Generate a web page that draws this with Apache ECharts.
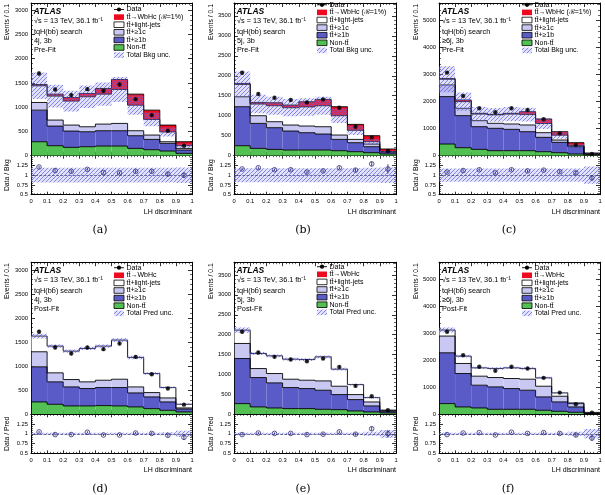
<!DOCTYPE html>
<html><head><meta charset="utf-8">
<script src="https://cdn.jsdelivr.net/npm/echarts@6/dist/echarts.min.js"></script>
<style>html,body{margin:0;padding:0;background:#fff}#c{width:605px;height:495px}</style>
</head><body><div id="c"></div>
<script>
// ---------- data ----------
const binEdges = [0, 0.1, 0.2, 0.3, 0.4, 0.5, 0.6, 0.7, 0.8, 0.9, 1.0];

// (a) 4j,3b Pre-Fit
const a_nonTT   = [288,206,172,185,199,199,151,124,96,48];
const a_ttb     = [652,405,336,309,316,316,261,212,158,69];
const a_ttc     = [158,124,124,103,137,151,103,90,34,34];
const a_ttlight = [344,494,494,618,618,700,527,322,202,55];
const a_sig     = [27,41,75,69,117,206,228,192,142,82];
const a_data    = [1696,1366,1250,1373,1339,1469,1167,838,515,206];
const a_dataErr = [41,37,35,37,37,38,34,29,23,14];
const a_ratio   = [1.21,1.12,1.10,1.15,1.07,1.06,1.10,1.10,1.03,1.00];
const a_ratioErr= [0.03,0.03,0.03,0.03,0.03,0.03,0.04,0.04,0.05,0.07];
const a_unc     = [0.19,0.19,0.19,0.19,0.19,0.19,0.19,0.19,0.19,0.2];

// (b) 5j,3b Pre-Fit
const b_nonTT   = [250,183,158,142,142,142,125,100,75,42];
const b_ttb     = [975,625,542,475,433,400,283,225,150,50];
const b_ttc     = [250,192,150,150,167,183,109,83,67,10];
const b_ttlight = [308,292,400,433,478,525,483,227,58,0];
const b_sig     = [25,41,75,67,130,158,225,148,150,65];
const b_data    = [2075,1542,1450,1392,1333,1408,1200,725,458,117];
const b_dataErr = [46,39,38,37,37,38,35,27,21,11];
const b_ratio   = [1.16,1.19,1.14,1.14,1.08,1.11,1.19,1.13,1.29,1.16];
const b_ratioErr= [0.03,0.03,0.03,0.03,0.03,0.03,0.04,0.04,0.06,0.12];
const b_unc     = [0.18,0.18,0.18,0.18,0.18,0.18,0.18,0.18,0.19,0.2];

// (c) >=6j,3b Pre-Fit
const c_nonTT   = [432,296,235,185,185,185,148,111,62,25];
const c_ttb     = [1754,1186,839,828,790,704,531,383,271,30];
const c_ttc     = [432,272,223,185,198,247,173,86,25,7];
const c_ttlight = [212,246,243,312,367,384,338,180,15,5];
const c_sig     = [23,62,28,21,28,110,168,129,109,32];
const c_data    = [3075,2210,1754,1605,1754,1692,1346,827,395,62];
const c_dataErr = [55,47,42,40,42,41,37,29,20,8];
const c_ratio   = [1.08,1.12,1.14,1.06,1.14,1.11,1.13,1.09,1.06,0.93];
const c_ratioErr= [0.03,0.03,0.03,0.03,0.03,0.03,0.03,0.04,0.05,0.07];
const c_unc     = [0.17,0.17,0.17,0.17,0.17,0.17,0.17,0.17,0.17,0.22];

// (d) 4j,3b Post-Fit
const d_nonTT   = [257,208,174,174,181,174,153,118,83,49];
const d_ttb     = [729,466,395,361,375,382,291,243,174,61];
const d_ttc     = [313,187,153,139,152,173,125,90,83,22];
const d_ttlight = [326,556,590,694,709,813,612,396,216,76];
const d_sig     = [0,0,0,0,0,0,0,0,0,0];
const d_data    = [1715,1389,1264,1389,1354,1472,1194,833,535,201];
const d_dataErr = [41,37,36,37,37,38,35,29,23,14];
const d_ratio   = [1.05,0.98,0.98,1.04,0.97,0.97,1.02,1.01,0.96,0.91];
const d_ratioErr= [0.025,0.025,0.025,0.025,0.025,0.025,0.03,0.035,0.04,0.07];
const d_unc     = [0.03,0.025,0.025,0.025,0.025,0.025,0.03,0.03,0.04,0.08];

// (e) 5j,3b Post-Fit
const e_nonTT   = [268,185,159,143,143,126,117,84,59,34];
const e_ttb     = [1133,738,630,528,503,478,378,285,151,33];
const e_ttc     = [378,226,235,210,210,235,210,126,100,28];
const e_ttlight = [335,378,444,503,520,604,428,252,110,10];
const e_sig     = [0,0,0,0,0,0,0,0,0,0];
const e_data    = [2072,1552,1443,1376,1334,1401,1191,713,453,100];
const e_dataErr = [46,39,38,37,37,37,35,27,21,10];
const e_ratio   = [0.98,1.02,1.01,1.01,0.98,0.99,1.05,0.99,1.13,1.00];
const e_ratioErr= [0.025,0.025,0.025,0.025,0.025,0.025,0.03,0.035,0.05,0.1];
const e_unc     = [0.03,0.025,0.025,0.025,0.025,0.025,0.03,0.03,0.05,0.1];

// (f) >=6j,3b Post-Fit
const f_nonTT   = [397,273,236,186,186,186,149,112,75,25];
const f_ttb     = [1888,1242,845,832,770,708,497,348,198,20];
const f_ttc     = [621,373,335,348,373,410,397,211,124,10];
const f_ttlight = [224,273,310,336,397,398,311,124,25,15];
const f_sig     = [0,0,0,0,0,0,0,0,0,0];
const f_data    = [3068,2198,1764,1615,1764,1702,1354,807,373,62];
const f_dataErr = [55,47,42,40,42,41,37,28,19,8];
const f_ratio   = [0.98,1.02,1.03,0.97,1.04,1.01,1.03,1.01,0.97,0.89];
const f_ratioErr= [0.02,0.02,0.02,0.02,0.02,0.02,0.03,0.035,0.05,0.07];
const f_unc     = [0.03,0.025,0.025,0.025,0.025,0.025,0.03,0.03,0.05,0.12];

const ratioTickLabels = [0.5, 0.75, 1, 1.25];

// ---------- style ----------
const FONT = 'Liberation Sans, Arial, sans-serif';
const C_GREEN = '#52c052', C_BLUE = '#5b5bc8', C_LAV = '#c8c8f2', C_WHITE = '#ffffff', C_RED = '#ee0a1e';

function makeHatch() {
  const s = 4;
  const c = document.createElement('canvas'); c.width = s; c.height = s;
  const g = c.getContext('2d');
  g.fillStyle = 'rgba(150,150,240,0.28)'; g.fillRect(0,0,s,s);
  g.strokeStyle = 'rgba(85,85,225,0.75)'; g.lineWidth = 0.9;
  g.beginPath();
  g.moveTo(0,s); g.lineTo(s,0);
  g.moveTo(-1,1); g.lineTo(1,-1);
  g.moveTo(s-1,s+1); g.lineTo(s+1,s-1);
  g.stroke();
  return { image: c, repeat: 'repeat' };
}
const HATCH = makeHatch();

const PANELS = [
  {tag:'(a)', col:0,row:0, pre:true, jets:'4j, 3b', ymax:3150, yint:500, nonTT:a_nonTT, ttb:a_ttb, ttc:a_ttc, light:a_ttlight, sig:a_sig, data:a_data, dErr:a_dataErr, ratio:a_ratio, rErr:a_ratioErr, unc:a_unc, legY:6.5, capX:100},
  {tag:'(b)', col:1,row:0, pre:true, jets:'5j, 3b', ymax:3820, yint:500, nonTT:b_nonTT, ttb:b_ttb, ttc:b_ttc, light:b_ttlight, sig:b_sig, data:b_data, dErr:b_dataErr, ratio:b_ratio, rErr:b_ratioErr, unc:b_unc, legY:1.8, capX:303},
  {tag:'(c)', col:2,row:0, pre:true, jets:'\u22656j, 3b', ymax:5650, yint:1000, nonTT:c_nonTT, ttb:c_ttb, ttc:c_ttc, light:c_ttlight, sig:c_sig, data:c_data, dErr:c_dataErr, ratio:c_ratio, rErr:c_ratioErr, unc:c_unc, legY:1.8, capX:509},
  {tag:'(d)', col:0,row:1, pre:false, jets:'4j, 3b', ymax:3160, yint:500, nonTT:d_nonTT, ttb:d_ttb, ttc:d_ttc, light:d_ttlight, sig:d_sig, data:d_data, dErr:d_dataErr, ratio:d_ratio, rErr:d_ratioErr, unc:d_unc, legY:5.5, capX:100},
  {tag:'(e)', col:1,row:1, pre:false, jets:'5j, 3b', ymax:3820, yint:500, nonTT:e_nonTT, ttb:e_ttb, ttc:e_ttc, light:e_ttlight, sig:e_sig, data:e_data, dErr:e_dataErr, ratio:e_ratio, rErr:e_ratioErr, unc:e_unc, legY:4.5, capX:303},
  {tag:'(f)', col:2,row:1, pre:false, jets:'\u22656j, 3b', ymax:5650, yint:1000, nonTT:f_nonTT, ttb:f_ttb, ttc:f_ttc, light:f_ttlight, sig:f_sig, data:f_data, dErr:f_dataErr, ratio:f_ratio, rErr:f_ratioErr, unc:f_unc, legY:5.5, capX:508}
];

const COL_L = [31, 234, 439], COL_W = [161, 162, 161];
const ROW_T = [3, 262.2], ROW_MH = [152.7, 152.1], RH = 39;
const YLAB_X = [7.5, 211.5, 416];

const grids = [], xAxes = [], yAxes = [], series = [], graphics = [];
const axLine = {show:true, onZero:false, lineStyle:{color:'#000', width:1}};

function addAxes(g, ymin, ymax, yint, showX, isRatio) {
  const xi = xAxes.length, yi = yAxes.length;
  ['bottom','top'].forEach((pos,k) => xAxes.push({
    type:'value', gridIndex:g, position:pos, min:0, max:1, interval:0.1,
    axisLine:axLine,
    axisTick:{show:true, inside:true, length: isRatio?3:4, lineStyle:{color:'#000', width:0.8}},
    minorTick:{show:true, splitNumber:5, length: isRatio?1.5:2, lineStyle:{color:'#000', width:0.6}},
    splitLine:{show:false}, minorSplitLine:{show:false},
    axisLabel:{show: showX && k===0, fontSize:5.8, color:'#000', margin:4, fontFamily:FONT,
      formatter: v => String(Math.round(v*10)/10)}
  }));
  ['left','right'].forEach((pos,k) => yAxes.push({
    type:'value', gridIndex:g, position:pos, min:ymin, max:ymax, interval:yint,
    axisLine:axLine,
    axisTick:{show:true, inside:true, length:4, lineStyle:{color:'#000', width:0.8}},
    minorTick:{show:true, splitNumber:5, length:2, lineStyle:{color:'#000', width:0.6}},
    splitLine:{show:false}, minorSplitLine:{show:false},
    axisLabel:{show:k===0, fontSize:5.8, color:'#000', margin:3, fontFamily:FONT, showMaxLabel:false,
      formatter: v => isRatio ? (ratioTickLabels.indexOf(Math.round(v*100)/100) >= 0 ? String(Math.round(v*100)/100) : '') : String(Math.round(v))}
  }));
  return {xi, yi};
}

const binIdx = binEdges.slice(0,-1).map((e,i) => [i]);

PANELS.forEach(p => {
  const L = COL_L[p.col], W = COL_W[p.col], T = ROW_T[p.row], MH = ROW_MH[p.row];
  const gM = grids.length; grids.push({left:L, top:T, width:W, height:MH, outerBoundsMode:'none', containLabel:false});
  const gR = grids.length; grids.push({left:L, top:T+MH, width:W, height:RH, outerBoundsMode:'none', containLabel:false});
  const am = addAxes(gM, 0, p.ymax, p.yint, false, false);
  const ar = addAxes(gR, 0.5, 1.5, 0.25, true, true);

  const comps = [
    {vals:p.nonTT, color:C_GREEN},
    {vals:p.ttb, color:C_BLUE},
    {vals:p.ttc, color:C_LAV},
    {vals:p.light, color:C_WHITE}
  ];
  if (p.pre) comps.push({vals:p.sig, color:C_RED});
  const tops = [];
  comps.forEach((c,k) => tops.push(c.vals.map((v,i) => v + (k>0 ? tops[k-1][i] : 0))));
  const bkgTop = tops[3];

  series.push({
    type:'custom', xAxisIndex:am.xi, yAxisIndex:am.yi, clip:true, z:2, silent:true,
    data: binIdx,
    renderItem: (params, api) => {
      const i = api.value(0);
      const x0 = api.coord([binEdges[i], 0])[0], x1 = api.coord([binEdges[i+1], 0])[0];
      const ch = [];
      comps.forEach((c,k) => {
        const lo = k>0 ? tops[k-1][i] : 0, hi = tops[k][i];
        const ylo = api.coord([0, lo])[1], yhi = api.coord([0, hi])[1];
        ch.push({type:'rect', z2:1, shape:{x:x0, y:yhi, width:x1-x0, height:ylo-yhi}, style:{fill:c.color}});
        const prev = i>0 ? tops[k][i-1] : 0;
        const yprev = api.coord([0, prev])[1];
        ch.push({type:'polyline', z2:2, shape:{points:[[x0,yprev],[x0,yhi],[x1,yhi]]}, style:{stroke:'#000', lineWidth:0.9, fill:null}});
      });
      return {type:'group', children:ch};
    }
  });
  series.push({
    type:'custom', xAxisIndex:am.xi, yAxisIndex:am.yi, clip:true, z:3, silent:true,
    data: binIdx,
    renderItem: (params, api) => {
      const i = api.value(0);
      const x0 = api.coord([binEdges[i], 0])[0], x1 = api.coord([binEdges[i+1], 0])[0];
      const yl = api.coord([0, bkgTop[i]*(1-p.unc[i])])[1], yh = api.coord([0, bkgTop[i]*(1+p.unc[i])])[1];
      return {type:'rect', shape:{x:x0, y:yh, width:x1-x0, height:yl-yh}, style:{fill:HATCH}};
    }
  });
  series.push({
    type:'custom', xAxisIndex:am.xi, yAxisIndex:am.yi, clip:true, z:5, silent:true,
    data: p.data.map((v,i) => [(binEdges[i]+binEdges[i+1])/2, v, p.dErr[i]]),
    renderItem: (params, api) => {
      const x = api.value(0), v = api.value(1), e = api.value(2);
      const a = api.coord([x, v-e]), b = api.coord([x, v+e]);
      return {type:'line', shape:{x1:a[0], y1:a[1], x2:b[0], y2:b[1]}, style:{stroke:'#000', lineWidth:0.9}};
    }
  });
  series.push({
    type:'scatter', xAxisIndex:am.xi, yAxisIndex:am.yi, z:6, silent:true,
    symbol:'circle', symbolSize:4.4, itemStyle:{color:'#000'},
    data: p.data.map((v,i) => [(binEdges[i]+binEdges[i+1])/2, v])
  });

  series.push({
    type:'custom', xAxisIndex:ar.xi, yAxisIndex:ar.yi, clip:true, z:3, silent:true,
    data: binIdx,
    renderItem: (params, api) => {
      const i = api.value(0);
      const x0 = api.coord([binEdges[i], 1])[0], x1 = api.coord([binEdges[i+1], 1])[0];
      const yl = api.coord([0, 1-p.unc[i]])[1], yh = api.coord([0, 1+p.unc[i]])[1];
      return {type:'rect', shape:{x:x0, y:yh, width:x1-x0, height:yl-yh}, style:{fill:HATCH}};
    }
  });
  series.push({
    type:'custom', xAxisIndex:ar.xi, yAxisIndex:ar.yi, clip:true, z:5, silent:true,
    data: p.ratio.map((v,i) => [(binEdges[i]+binEdges[i+1])/2, v, p.rErr[i]]),
    renderItem: (params, api) => {
      const x = api.value(0), v = api.value(1), e = api.value(2);
      const a = api.coord([x, v-e]), b = api.coord([x, v+e]);
      return {type:'line', shape:{x1:a[0], y1:a[1], x2:b[0], y2:b[1]}, style:{stroke:'#2b2b7a', lineWidth:0.9}};
    }
  });
  series.push({
    type:'scatter', xAxisIndex:ar.xi, yAxisIndex:ar.yi, z:6, silent:true,
    symbol:'circle', symbolSize:4.6,
    itemStyle:{color:'rgba(255,255,255,0)', borderColor:'#2b2b7a', borderWidth:1},
    data: p.ratio.map((v,i) => [(binEdges[i]+binEdges[i+1])/2, v]),
    markLine:{silent:true, symbol:'none', data:[{yAxis:1}], label:{show:false},
      lineStyle:{type:'dashed', color:'#404070', width:0.7}}
  });

  // ---------- texts ----------
  const txt = (x,y,s,o,rot) => graphics.push({type:'text', x:x, y:y, z:100, rotation: rot || 0,
    style:Object.assign({text:s, fill:'#000', font:'7.3px ' + FONT, textAlign:'left', textVerticalAlign:'middle'}, o||{})});
  txt(L+2.5, T+8.5, 'ATLAS', {font:'italic bold 8.5px ' + FONT});
  txt(L+3, T+17.5, '\u221As = 13 TeV, 36.1 fb\u207B\u00B9');
  txt(L+3, T+28.5, 'tqH(bb\u0304) search');
  txt(L+3, T+37.5, p.jets);
  txt(L+3, T+46.5, p.pre ? 'Pre-Fit' : 'Post-Fit');

  const lx = L+83, tx = L+95.5, dy = 7.6;
  const rows = [
    {kind:'data', t:'Data'},
    {kind:'rect', fill:C_RED, stroke:null, t: p.pre ? 'tt\u0304\u2192WbHc (\u212C=1%)' : 'tt\u0304\u2192WbHc'},
    {kind:'rect', fill:C_WHITE, stroke:'#000', t:'tt\u0304+light-jets'},
    {kind:'rect', fill:C_LAV, stroke:'#000', t:'tt\u0304+\u22651c'},
    {kind:'rect', fill:C_BLUE, stroke:'#000', t:'tt\u0304+\u22651b'},
    {kind:'rect', fill:C_GREEN, stroke:'#000', t:'Non-tt\u0304'},
    {kind:'rect', fill:HATCH, stroke:null, t: p.pre ? 'Total Bkg unc.' : 'Total Pred unc.'}
  ];
  rows.forEach((r,k) => {
    const y = T + p.legY + k*dy;
    if (r.kind === 'data') {
      graphics.push({type:'line', z:100, shape:{x1:lx, y1:y, x2:lx+10, y2:y}, style:{stroke:'#000', lineWidth:0.9}});
      graphics.push({type:'circle', z:101, shape:{cx:lx+5, cy:y, r:2.1}, style:{fill:'#000'}});
    } else {
      graphics.push({type:'rect', z:100, shape:{x:lx, y:y-2.8, width:10, height:5.6},
        style:{fill:r.fill, stroke:r.stroke || null, lineWidth:0.8}});
    }
    txt(tx, y, r.t, {font:'7px ' + FONT});
  });

  txt(YLAB_X[p.col], T+1, 'Events / 0.1', {textAlign:'right', font:'6.8px ' + FONT}, Math.PI/2);
  txt(YLAB_X[p.col], T+MH+RH/2, p.pre ? 'Data / Bkg' : 'Data / Pred', {textAlign:'center', font:'6.8px ' + FONT}, Math.PI/2);
  txt(L+W, T+MH+RH+17, 'LH discriminant', {textAlign:'right', font:'7px ' + FONT});
  txt(p.capX, T+MH+RH+35.5, p.tag, {textAlign:'center', font:'11px DejaVu Serif, serif'});
});

const chart = echarts.init(document.getElementById('c'), null, {renderer:'canvas', width:605, height:495});
chart.setOption({
  animation:false,
  backgroundColor:'#fff',
  grid:grids, xAxis:xAxes, yAxis:yAxes, series:series,
  graphic:{elements:graphics}
});
</script></body></html>
